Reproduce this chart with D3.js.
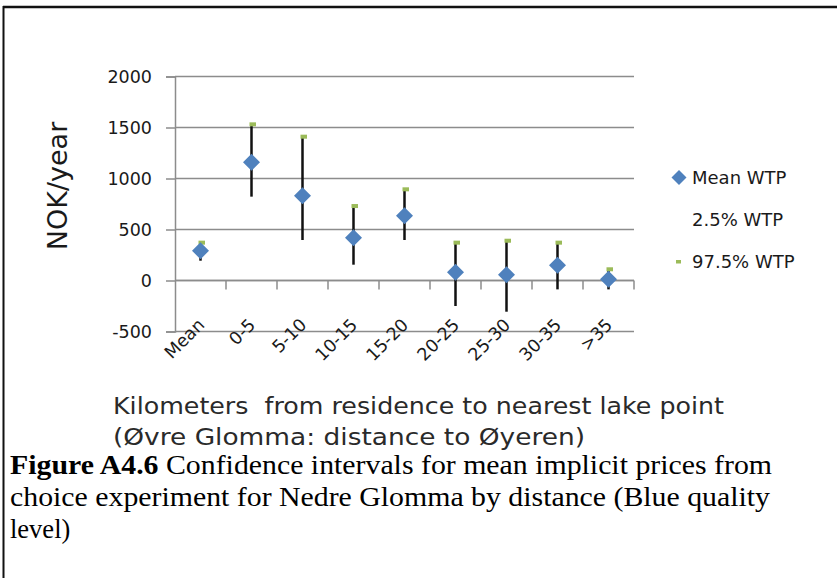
<!DOCTYPE html>
<html>
<head>
<meta charset="utf-8">
<script src="https://cdn.jsdelivr.net/npm/d3@7"></script>
<style>
  html, body { margin: 0; padding: 0; background: #fff; }
  svg { display: block; }
</style>
</head>
<body>
<svg id="chart" width="837" height="578"></svg>
<script>
// ---- data ----
const categories = ["Mean", "0-5", "5-10", "10-15", "15-20", "20-25", "25-30", "30-35", ">35"];
const meanWTP    = [292, 1159, 831, 420, 635, 80, 57, 149, 12];
const lowWTP     = [194, 822, 397, 155, 397, -250, -306, -87, -87];   // 2.5% WTP
const highWTP    = [371, 1531, 1410, 730, 894, 371, 390, 371, 110];   // 97.5% WTP
const yTicks     = [-500, 0, 500, 1000, 1500, 2000];
const legendLabels = ["Mean WTP", "2.5% WTP", "97.5% WTP"];
const yTitle = "NOK/year";
const xTitleLines = ["Kilometers  from residence to nearest lake point", "(\u00D8vre Glomma: distance to \u00D8yeren)"];
const captionBold = "Figure A4.6";
const captionLines = [" Confidence intervals for mean implicit prices from",
                      "choice experiment for Nedre Glomma by distance (Blue quality",
                      "level)"];

const svg = d3.select("#chart");
const sans = "DejaVu Sans, sans-serif";
const gridColor = "#8c8c8c";

// frame (top & left)
svg.append("line").attr("x1", 3).attr("x2", 837).attr("y1", 7).attr("y2", 7)
  .attr("stroke", "#111").attr("stroke-width", 2.5);
svg.append("line").attr("x1", 3.5).attr("x2", 3.5).attr("y1", 6).attr("y2", 578)
  .attr("stroke", "#111").attr("stroke-width", 2);

// scales
const plot = { left: 175, right: 634, top: 76.5, bottom: 331.5 };
const x = d3.scaleBand().domain(categories).range([plot.left, plot.right]);
const y = d3.scaleLinear().domain([-500, 2000]).range([plot.bottom, plot.top]);

// gridlines
svg.append("g").selectAll("line").data(yTicks).join("line")
  .attr("x1", plot.left).attr("x2", plot.right)
  .attr("y1", d => y(d)).attr("y2", d => y(d))
  .attr("stroke", gridColor).attr("stroke-width", 1.5);

// y axis
const yAxis = svg.append("g").attr("transform", `translate(${plot.left},0)`)
  .call(d3.axisLeft(y).tickValues(yTicks).tickSize(9).tickPadding(14).tickFormat(d3.format("d")));
yAxis.select(".domain").attr("stroke", gridColor).attr("stroke-width", 1.5);
yAxis.selectAll(".tick line").attr("stroke", gridColor).attr("stroke-width", 1.5);
yAxis.selectAll(".tick text").attr("font-family", sans).attr("font-size", 17.5).attr("fill", "#1a1a1a")
  .text(d => d < 0 ? "-" + Math.abs(d) : d);

// x axis at zero with tick marks between categories
const xAxisG = svg.append("g");
xAxisG.append("line").attr("x1", plot.left).attr("x2", plot.right)
  .attr("y1", y(0)).attr("y2", y(0)).attr("stroke", gridColor).attr("stroke-width", 1.5);
xAxisG.selectAll("line.tk").data(categories.slice(1).concat(["__end"])).join("line").attr("class", "tk")
  .attr("x1", (d, i) => x(categories[0]) + x.step() * (i + 1))
  .attr("x2", (d, i) => x(categories[0]) + x.step() * (i + 1))
  .attr("y1", y(0)).attr("y2", y(0) + 9)
  .attr("stroke", gridColor).attr("stroke-width", 1.5);

// x tick labels rotated
svg.append("g").selectAll("text").data(categories).join("text")
  .attr("transform", d => `translate(${x(d) + x.bandwidth() / 2 + 5},${326}) rotate(-45)`)
  .attr("text-anchor", "end")
  .attr("font-family", sans).attr("font-size", 17.5).attr("fill", "#1a1a1a")
  .text(d => d);

// hi-lo lines
svg.append("g").selectAll("line").data(categories).join("line")
  .attr("x1", d => x(d) + x.bandwidth() / 2).attr("x2", d => x(d) + x.bandwidth() / 2)
  .attr("y1", (d, i) => y(lowWTP[i])).attr("y2", (d, i) => y(highWTP[i]))
  .attr("stroke", "#111").attr("stroke-width", 2.5);

// 97.5% markers (green dash)
svg.append("g").selectAll("rect").data(categories).join("rect")
  .attr("x", d => x(d) + x.bandwidth() / 2 - 2).attr("y", (d, i) => y(highWTP[i]) - 2)
  .attr("width", 6.5).attr("height", 4)
  .attr("fill", "#9bbb59");

// mean diamonds
const diamond = (cx, cy, r) => `M${cx},${cy - r}L${cx + r},${cy}L${cx},${cy + r}L${cx - r},${cy}Z`;
svg.append("g").selectAll("path").data(categories).join("path")
  .attr("d", (d, i) => diamond(x(d) + x.bandwidth() / 2, y(meanWTP[i]), 8.5))
  .attr("fill", "#4f81bd");

// legend
const legY = [177.5, 220, 262];
const leg = svg.append("g");
leg.append("path").attr("d", diamond(679, legY[0], 7.5)).attr("fill", "#4f81bd");
leg.append("rect").attr("x", 676).attr("y", legY[2] - 2).attr("width", 5).attr("height", 3.5).attr("fill", "#9bbb59");
leg.selectAll("text").data(legendLabels).join("text")
  .attr("x", 692).attr("y", (d, i) => legY[i]).attr("dy", "0.35em")
  .attr("font-family", sans).attr("font-size", 18).attr("fill", "#1a1a1a")
  .text(d => d);

// y title
svg.append("text")
  .attr("transform", "translate(67,186) rotate(-90)")
  .attr("text-anchor", "middle")
  .attr("font-family", sans).attr("font-size", 27).attr("fill", "#1a1a1a")
  .text(yTitle);

// x title
svg.append("g").selectAll("text").data(xTitleLines).join("text")
  .attr("x", 113).attr("y", (d, i) => 414 + i * 31)
  .attr("font-family", sans).attr("font-size", 22.5).attr("fill", "#2a2a2a")
  .attr("textLength", (d, i) => [611, 472][i]).attr("lengthAdjust", "spacingAndGlyphs")
  .style("white-space", "pre")
  .text(d => d);

// caption
const cap = svg.append("g").attr("font-family", "Liberation Serif, Times New Roman, serif")
  .attr("font-size", 26.5).attr("fill", "#000");
const t1 = cap.append("text").attr("x", 10).attr("y", 474).attr("textLength", 762).attr("lengthAdjust", "spacingAndGlyphs");
t1.append("tspan").attr("font-weight", "bold").text(captionBold);
t1.append("tspan").style("white-space", "pre").text(captionLines[0]);
cap.append("text").attr("x", 10).attr("y", 506).attr("textLength", 760).attr("lengthAdjust", "spacingAndGlyphs").text(captionLines[1]);
cap.append("text").attr("x", 10).attr("y", 538).text(captionLines[2]);
</script>
</body>
</html>
